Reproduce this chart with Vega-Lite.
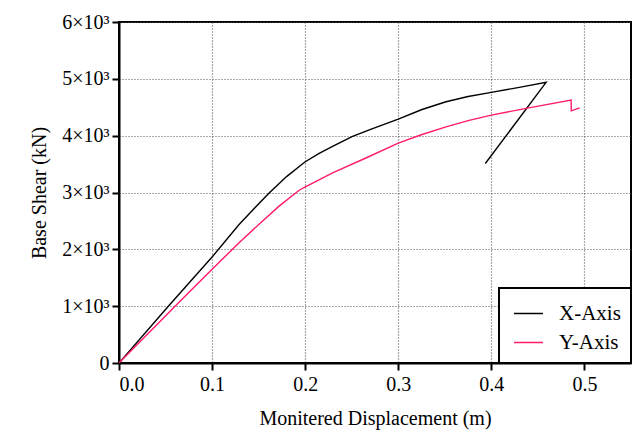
{
  "$schema": "https://vega.github.io/schema/vega-lite/v6.json",
  "width": 512,
  "height": 341,
  "autosize": {"type": "none"},
  "padding": {"left": 119, "top": 22, "right": 7, "bottom": 72},
  "background": "white",
  "config": {
    "font": "Liberation Serif",
    "view": {"stroke": "black", "strokeWidth": 2},
    "axis": {
      "labelFont": "Liberation Serif",
      "titleFont": "Liberation Serif",
      "labelFontSize": 20,
      "titleFontSize": 20,
      "titleFontWeight": "normal",
      "labelColor": "black",
      "titleColor": "black",
      "domainColor": "black",
      "domainWidth": 2,
      "tickColor": "black",
      "tickWidth": 2,
      "tickSize": 7,
      "grid": true,
      "gridColor": "#555555",
      "gridDash": [1, 2],
      "gridWidth": 1.2
    }
  },
  "data": {
    "values": [
      {"series": "X-Axis", "i": 0, "d": 0.0, "v": 0},
      {"series": "X-Axis", "i": 1, "d": 0.053, "v": 1000},
      {"series": "X-Axis", "i": 2, "d": 0.1, "v": 1865},
      {"series": "X-Axis", "i": 3, "d": 0.129, "v": 2437},
      {"series": "X-Axis", "i": 4, "d": 0.1465, "v": 2740},
      {"series": "X-Axis", "i": 5, "d": 0.1613, "v": 2993},
      {"series": "X-Axis", "i": 6, "d": 0.18, "v": 3280},
      {"series": "X-Axis", "i": 7, "d": 0.1997, "v": 3537},
      {"series": "X-Axis", "i": 8, "d": 0.2145, "v": 3685},
      {"series": "X-Axis", "i": 9, "d": 0.2294, "v": 3812},
      {"series": "X-Axis", "i": 10, "d": 0.2509, "v": 3988},
      {"series": "X-Axis", "i": 11, "d": 0.2724, "v": 4123},
      {"series": "X-Axis", "i": 12, "d": 0.3, "v": 4291},
      {"series": "X-Axis", "i": 13, "d": 0.3255, "v": 4460},
      {"series": "X-Axis", "i": 14, "d": 0.3513, "v": 4596},
      {"series": "X-Axis", "i": 15, "d": 0.375, "v": 4690},
      {"series": "X-Axis", "i": 16, "d": 0.4, "v": 4762},
      {"series": "X-Axis", "i": 17, "d": 0.43, "v": 4850},
      {"series": "X-Axis", "i": 18, "d": 0.4588, "v": 4938},
      {"series": "X-Axis", "i": 19, "d": 0.3935, "v": 3510},
      {"series": "Y-Axis", "i": 0, "d": 0.0, "v": 0},
      {"series": "Y-Axis", "i": 1, "d": 0.0602, "v": 1000},
      {"series": "Y-Axis", "i": 2, "d": 0.1, "v": 1649},
      {"series": "Y-Axis", "i": 3, "d": 0.129, "v": 2116},
      {"series": "Y-Axis", "i": 4, "d": 0.154, "v": 2496},
      {"series": "Y-Axis", "i": 5, "d": 0.172, "v": 2760},
      {"series": "Y-Axis", "i": 6, "d": 0.1935, "v": 3040},
      {"series": "Y-Axis", "i": 7, "d": 0.1997, "v": 3093},
      {"series": "Y-Axis", "i": 8, "d": 0.2294, "v": 3344},
      {"series": "Y-Axis", "i": 9, "d": 0.2652, "v": 3607},
      {"series": "Y-Axis", "i": 10, "d": 0.3, "v": 3870},
      {"series": "Y-Axis", "i": 11, "d": 0.3255, "v": 4020},
      {"series": "Y-Axis", "i": 12, "d": 0.3513, "v": 4156},
      {"series": "Y-Axis", "i": 13, "d": 0.375, "v": 4265},
      {"series": "Y-Axis", "i": 14, "d": 0.4, "v": 4362},
      {"series": "Y-Axis", "i": 15, "d": 0.4373, "v": 4480},
      {"series": "Y-Axis", "i": 16, "d": 0.4857, "v": 4627},
      {"series": "Y-Axis", "i": 17, "d": 0.4858, "v": 4437},
      {"series": "Y-Axis", "i": 18, "d": 0.4949, "v": 4490}
    ]
  },
  "mark": {"type": "line", "strokeWidth": 1.4, "clip": true},
  "encoding": {
    "x": {
      "field": "d",
      "type": "quantitative",
      "title": "Monitered Displacement (m)",
      "scale": {"domain": [0, 0.55], "nice": false, "zero": true},
      "axis": {
        "values": [0, 0.1, 0.2, 0.3, 0.4, 0.5],
        "format": ".1f",
        "labelPadding": 4,
        "titlePadding": 14,
        "encode": {
          "labels": {"update": {"font": {"value": "Liberation Serif"}, "fontSize": {"value": 21}}},
          "title": {"update": {"font": {"value": "Liberation Serif"}, "fontSize": {"value": 21}}}
        }
      }
    },
    "y": {
      "field": "v",
      "type": "quantitative",
      "title": "Base Shear (kN)",
      "scale": {"domain": [0, 6000], "nice": false},
      "axis": {
        "values": [0, 1000, 2000, 3000, 4000, 5000, 6000],
        "labelExpr": "datum.value == 0 ? '0' : (datum.value / 1000) + '×10³'",
        "labelPadding": 3,
        "titlePadding": 12,
        "encode": {
          "labels": {"update": {"font": {"value": "Liberation Serif"}, "fontSize": {"value": 21}}},
          "title": {"update": {"font": {"value": "Liberation Serif"}, "fontSize": {"value": 21}}}
        }
      }
    },
    "order": {"field": "i", "type": "quantitative"},
    "color": {
      "field": "series",
      "type": "nominal",
      "title": null,
      "scale": {"domain": ["X-Axis", "Y-Axis"], "range": ["#000000", "#ff1a6e"]},
      "legend": {
        "orient": "bottom-right",
        "offset": 0,
        "padding": 10,
        "strokeColor": "black",
        "fillColor": "white",
        "labelFont": "Liberation Serif",
        "labelFontSize": 21,
        "labelColor": "black",
        "symbolType": "stroke",
        "symbolSize": 841,
        "symbolStrokeWidth": 1.5,
        "symbolOffset": 4,
        "rowPadding": 3,
        "labelOffset": 15,
        "encode": {"legend": {"update": {"strokeWidth": {"value": 2}}}}
      }
    }
  }
}
